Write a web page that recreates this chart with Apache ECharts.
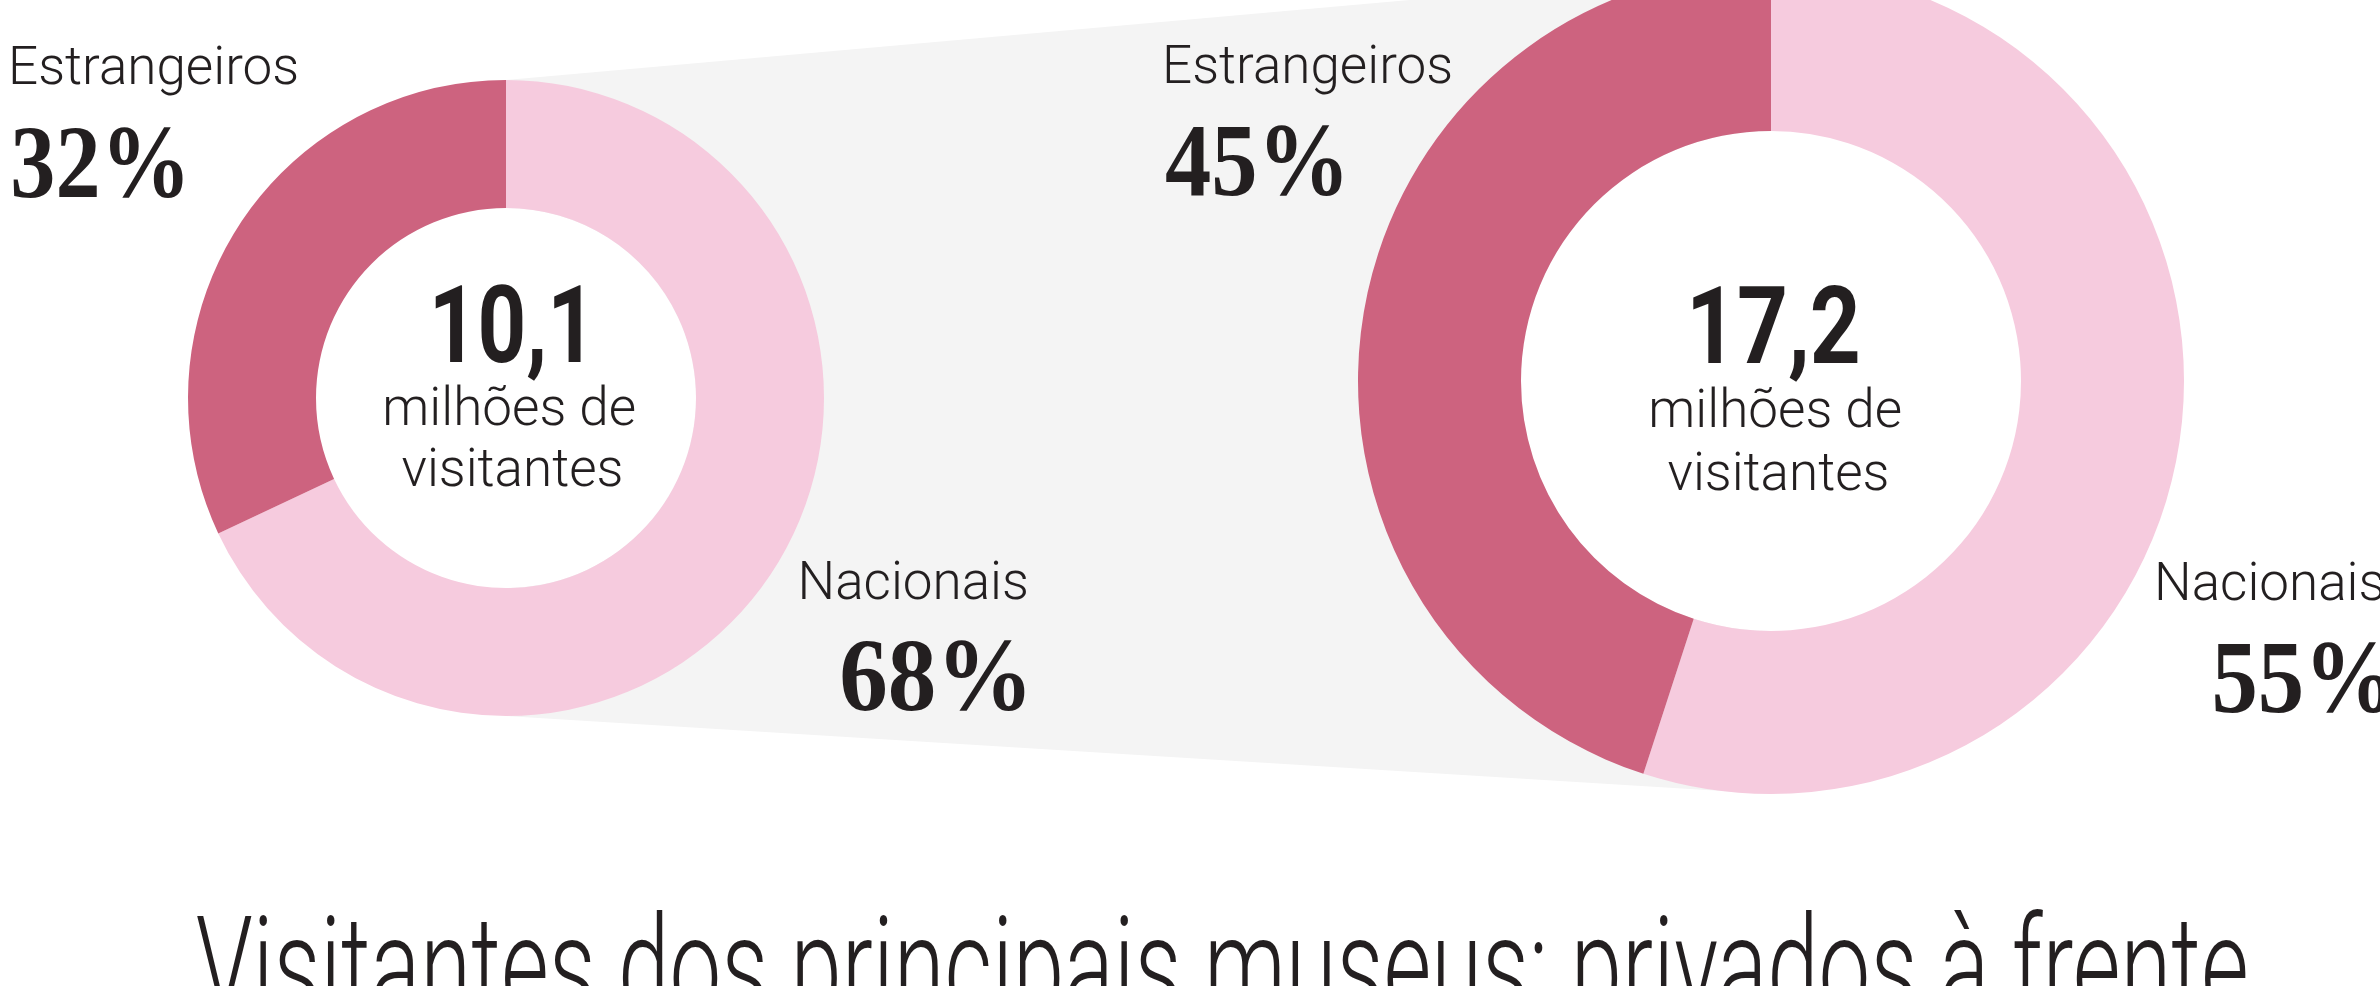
<!DOCTYPE html>
<html><head><meta charset="utf-8">
<style>html,body{margin:0;padding:0;background:#fff}#c{width:2380px;height:986px}</style>
<script src="https://cdn.jsdelivr.net/npm/echarts@6/dist/echarts.min.js"></script>
</head><body><div id="c"></div>
<script>
// ---- data ----
const categories = ['Nacionais', 'Estrangeiros'];
const sharesA = [68, 32];          // left donut (%)
const sharesB = [55, 45];          // right donut (%)
const totals = ['10,1', '17,2'];   // milhões de visitantes
const caption = ['milhões de', 'visitantes'];
const titleText = 'Visitantes dos principais museus: privados à frente';

// ---- style ----
const colors = ['#f6cbde', '#cd637f'];
const ink = '#231f20';
const donuts = [
  {cx: 506, cy: 398, r0: 190, r: 318},
  {cx: 1771, cy: 381, r0: 250, r: 413}
];

const chart = echarts.init(document.getElementById('c'), null, {renderer: 'canvas'});
const ctx = document.createElement('canvas').getContext('2d');

function T(text, font, o) {
  ctx.font = font; ctx.textBaseline = 'middle'; ctx.textAlign = 'left';
  const m = ctx.measureText(text);
  const inkL = -m.actualBoundingBoxLeft, inkR = m.actualBoundingBoxRight;
  const baseOff = ctx.measureText('H').actualBoundingBoxDescent;
  const sx = o.fit ? o.fit / (inkR - inkL) : (o.sx || 1);
  let x;
  if (o.left != null) x = o.left - inkL * sx;
  else if (o.right != null) x = o.right - inkR * sx;
  else x = o.cx - (inkL + inkR) / 2 * sx;
  return {type: 'text', x: x, y: o.base - baseOff, scaleX: sx, z: 10, silent: true,
    style: {text: text, font: font, fill: ink, align: 'left', verticalAlign: 'middle'}};
}

const LIGHT = '300 53px Roboto';
const SERIF = 'bold 103px "Liberation Serif"';
const BOLD = '700 108px Roboto';

const graphics = [];
// grey connecting band
graphics.push({type: 'polygon', z: 0, silent: true,
  shape: {points: [[donuts[0].cx, donuts[0].cy - donuts[0].r], [donuts[1].cx, donuts[1].cy - donuts[1].r],
                   [donuts[1].cx, donuts[1].cy + donuts[1].r], [donuts[0].cx, donuts[0].cy + donuts[0].r]]},
  style: {fill: '#f4f4f4'}});
donuts.forEach(d => graphics.push({type: 'circle', z: 1, silent: true, shape: {cx: d.cx, cy: d.cy, r: d.r0}, style: {fill: '#fff'}}));

// labels
graphics.push(T(categories[1], LIGHT, {left: 12, base: 84}));
graphics.push(T(sharesA[1] + '%', SERIF, {left: 13, base: 197, fit: 170}));
graphics.push(T(categories[0], LIGHT, {right: 1026, base: 599}));
graphics.push(T(sharesA[0] + '%', SERIF, {right: 1025, base: 710, fit: 183}));
graphics.push(T(categories[1], LIGHT, {left: 1166, base: 83}));
graphics.push(T(sharesB[1] + '%', SERIF, {left: 1166, base: 195, fit: 176}));
graphics.push(T(categories[0], LIGHT, {left: 2158, base: 600}));
graphics.push(T(sharesB[0] + '%', SERIF, {left: 2215, base: 712, sx: 0.9}));

// centre texts
graphics.push(T(totals[0], BOLD, {cx: 508, base: 362, fit: 146}));
graphics.push(T(caption[0], LIGHT, {cx: 510, base: 425}));
graphics.push(T(caption[1], LIGHT, {cx: 511, base: 486}));
graphics.push(T(totals[1], BOLD, {cx: 1775, base: 363, fit: 165}));
graphics.push(T(caption[0], LIGHT, {cx: 1776, base: 427}));
graphics.push(T(caption[1], LIGHT, {cx: 1777, base: 490}));

// title
graphics.push(T(titleText, '300 140px Roboto', {left: 197, base: 1015, fit: 2049}));

function pie(shares, d) {
  return {type: 'pie', center: [d.cx, d.cy], radius: [d.r0, d.r], startAngle: 90, clockwise: true,
    silent: true, animation: false, avoidLabelOverlap: false,
    label: {show: false}, labelLine: {show: false}, itemStyle: {borderWidth: 0},
    emphasis: {disabled: true},
    data: categories.map((n, i) => ({name: n, value: shares[i], itemStyle: {color: colors[i]}}))};
}

chart.setOption({
  backgroundColor: '#ffffff',
  animation: false,
  series: [pie(sharesA, donuts[0]), pie(sharesB, donuts[1])],
  graphic: {elements: graphics}
});
</script></body></html>
